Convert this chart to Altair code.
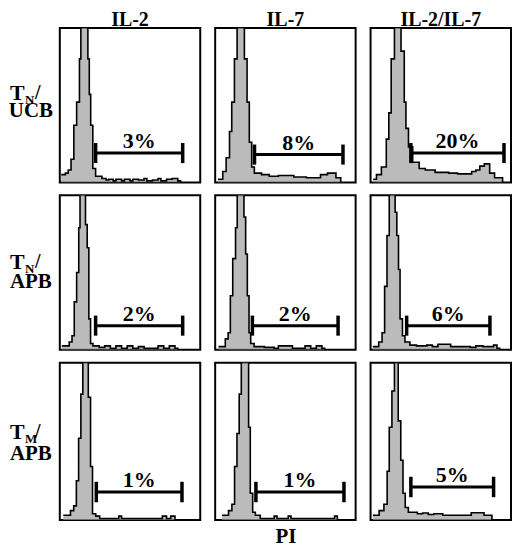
import altair as alt
import pandas as pd

FONT = "Liberation Serif"
FILL = "#9e9e9e"

col_titles = ["IL-2", "IL-7", "IL-2/IL-7"]
row_main = ["T", "T", "T"]
row_sub = ["N", "N", "M"]
row_bottom = ["UCB", "APB", "APB"]

# PI histograms: step left edges (percent of channel range) and heights (percent of frame)
h11_x = [1, 4, 6, 8, 10, 12, 14, 15, 20, 21, 22, 23.5, 25.5, 30, 33, 35, 38, 40, 44, 46, 50, 52, 56, 60, 62, 66, 70, 72, 76, 80, 84, 86]
h11_y = [5, 6, 8, 15, 37, 52, 80, 115, 80, 57, 37, 9, 4, 2.5, 1.5, 2, 1, 2, 1, 2, 1, 2, 1.5, 2.5, 1, 1.5, 2.5, 1, 2, 2.5, 1, 0]
h12_x = [2, 5.4, 7.8, 10.2, 11.8, 13.7, 15.6, 20.8, 22.7, 24.3, 26, 27.9, 33, 38.5, 45, 56, 65, 75, 80, 86, 89.4]
h12_y = [2, 7, 16, 33, 52, 80, 115, 80, 52, 26, 10, 6, 5, 4, 4.5, 3.5, 3, 5, 6, 3, 0]
h13_x = [1.9, 4.2, 7.7, 11.2, 13, 14.7, 17, 21.7, 24, 25.2, 27, 30, 34.6, 39, 46, 55.6, 62, 72, 75, 77.8, 81, 84.8, 88.3, 94]
h13_y = [2, 5, 10, 28, 45, 80, 115, 85, 52, 35, 23, 13, 9, 8, 6.5, 6, 5.5, 7, 8, 10.5, 12, 6, 3, 0]
h21_x = [1.4, 6.7, 8.7, 10.3, 12, 13.5, 14.4, 18.3, 19.5, 20.7, 21.9, 23.6, 28, 32, 36, 40, 44, 48, 52, 56, 60, 70, 74, 78, 82, 84]
h21_y = [2.5, 5, 9, 31, 50, 79, 115, 81, 66, 20, 4, 2.5, 1.5, 2.5, 1, 2.5, 1, 2.5, 1, 2, 1, 2.5, 1, 2.5, 1, 0]
h22_x = [2.4, 7.2, 9.2, 10.8, 12.5, 14.5, 15.7, 20.5, 21.7, 22.9, 24.1, 25.3, 27.7, 35, 42, 45, 50, 55, 60, 64, 68, 72, 76, 78]
h22_y = [2, 7, 11, 35, 59, 79, 115, 86, 62, 35, 11, 4, 2, 1.5, 1, 2.5, 2.5, 1, 1, 2.5, 1, 2.5, 1, 0]
h23_x = [1.6, 5.8, 8.2, 10, 11.7, 13.3, 17.5, 18.7, 19.9, 21, 22.7, 24.5, 28, 32.7, 40, 44, 48, 52, 57, 71, 75, 80, 84, 87.6, 90, 92]
h23_y = [2, 5, 11, 41, 74, 115, 89, 74, 52, 20, 9, 5, 3, 2.5, 3, 2, 3.5, 3.5, 2, 1.5, 2.5, 2, 2, 3, 1, 0]
h31_x = [2.5, 7.6, 9.9, 11.8, 13.4, 15, 16.4, 20.3, 21.9, 23.3, 25.6, 28.4, 42, 44, 73, 76, 79, 82]
h31_y = [3, 6, 9, 25, 52, 80, 115, 78, 34, 4, 2.5, 1, 2.5, 1, 2.5, 1, 2.5, 0]
h32_x = [4.8, 9.5, 11.9, 13.8, 15.5, 17.1, 18.6, 23.8, 25, 26.7, 28.6, 32.1, 42, 44, 52, 54, 85, 87]
h32_y = [3, 6, 10, 34, 55, 80, 115, 59, 17, 5, 3, 1, 2.5, 1, 2.5, 1, 2.5, 0]
h33_x = [1.6, 6.1, 9.5, 11.8, 13.3, 15.2, 17, 19.7, 21.5, 23.1, 24.7, 26.9, 33.3, 37, 41, 45, 51.4, 60, 71.7, 80.8, 86.4]
h33_y = [3, 6, 10, 31, 59, 82, 115, 63, 38, 17, 8, 5, 4, 4.5, 3.5, 4, 3, 3, 4.6, 3, 0]

# gates (marker bars) per panel, row-major
gate_lo = [25.5, 28, 28.7, 25.5, 26.5, 25.7, 26, 29, 28.7]
gate_hi = [87.5, 91, 95, 87.5, 87.5, 85, 87, 91.7, 87.6]
gate_y = [19, 18, 19, 15.6, 15.6, 15.6, 17.8, 17.8, 21]
pct_labels = ["3%", "8%", "20%", "2%", "2%", "6%", "1%", "1%", "5%"]

HX = [[h11_x, h12_x, h13_x], [h21_x, h22_x, h23_x], [h31_x, h32_x, h33_x]]
HY = [[h11_y, h12_y, h13_y], [h21_y, h22_y, h23_y], [h31_y, h32_y, h33_y]]

PW = 141
PH = [155, 155, 158]
label_y = [(72, 89), (74, 93), (77, 98)]

xsc = alt.Scale(domain=[0, 100], nice=False, zero=False)
ysc = alt.Scale(domain=[0, 100], nice=False, zero=False)


def panel(r, c):
    i = r * 3 + c
    hist = pd.DataFrame({"x": HX[r][c], "y": HY[r][c]})
    if r == 2 and c == 1:
        xaxis = alt.Axis(title="PI", labels=False, ticks=False, domain=False, grid=False,
                         titleFont=FONT, titleFontSize=21, titleFontWeight="bold",
                         titleColor="black", titlePadding=6)
    else:
        xaxis = None
    area = alt.Chart(hist).mark_area(
        interpolate="step-after", color=FILL, clip=True,
        line={"color": "black", "strokeWidth": 1.6},
    ).encode(
        x=alt.X("x:Q", scale=xsc, axis=xaxis),
        y=alt.Y("y:Q", scale=ysc, axis=None),
    )
    g = pd.DataFrame({
        "x1": [gate_lo[i]], "x2": [gate_hi[i]], "y": [gate_y[i]],
        "lab": [pct_labels[i]], "xm": [(gate_lo[i] + gate_hi[i]) / 2],
    })
    ends = pd.DataFrame({
        "x": [gate_lo[i], gate_hi[i]],
        "t1": [gate_y[i] - 6.5] * 2, "t2": [gate_y[i] + 6.5] * 2,
    })
    bar = alt.Chart(g).mark_rule(color="black", strokeWidth=3).encode(
        x=alt.X("x1:Q", scale=xsc), x2="x2:Q", y=alt.Y("y:Q", scale=ysc))
    tk = alt.Chart(ends).mark_rule(color="black", strokeWidth=3.5).encode(
        x=alt.X("x:Q", scale=xsc), y=alt.Y("t1:Q", scale=ysc), y2="t2:Q")
    txt = alt.Chart(g).mark_text(
        font=FONT, fontSize=22, fontWeight="bold", color="black",
        baseline="alphabetic", dy=-5,
    ).encode(x=alt.X("xm:Q", scale=xsc), y=alt.Y("y:Q", scale=ysc), text="lab:N")
    ch = alt.layer(area, bar, tk, txt).properties(
        width=PW, height=PH[r],
        view=alt.ViewBackground(stroke="black", strokeWidth=2))
    if r == 0:
        ch = ch.properties(title=alt.TitleParams(
            col_titles[c], font=FONT, fontSize=20, fontWeight="bold",
            color="black", anchor="middle", offset=-2))
    return ch


def row_label(r):
    d = pd.DataFrame({"k": [0]})
    y1, y2 = label_y[r]
    base = alt.Chart(d)
    t_main = base.mark_text(font=FONT, fontSize=22, fontWeight="bold", align="left",
                            baseline="alphabetic", color="black").encode(
        x=alt.value(0), y=alt.value(y1), text=alt.value(row_main[r]))
    t_sub = base.mark_text(font=FONT, fontSize=13, fontWeight="bold", align="left",
                           baseline="alphabetic", color="black").encode(
        x=alt.value(15), y=alt.value(y1 + 4), text=alt.value(row_sub[r]))
    t_sl = base.mark_text(font=FONT, fontSize=20, fontWeight="bold", align="left",
                          baseline="alphabetic", color="black").encode(
        x=alt.value(25), y=alt.value(y1 - 1), text=alt.value("/"))
    t_bot = base.mark_text(font=FONT, fontSize=21, fontWeight="bold", align="center",
                           baseline="alphabetic", color="black").encode(
        x=alt.value(21), y=alt.value(y2), text=alt.value(row_bottom[r]))
    return alt.layer(t_main, t_sub, t_sl, t_bot).properties(
        width=35, height=PH[r], view=alt.ViewBackground(stroke="transparent"))


cells = []
for r in range(3):
    cells.append(row_label(r))
    for c in range(3):
        cells.append(panel(r, c))

chart = alt.concat(*cells, columns=4, spacing={"row": 13, "column": 15},
                   bounds="flush").properties(
    padding={"left": 0, "top": 0, "right": 0, "bottom": 0},
    background="white",
)

chart.save("out.html", embed_options={"renderer": "svg", "actions": False})
